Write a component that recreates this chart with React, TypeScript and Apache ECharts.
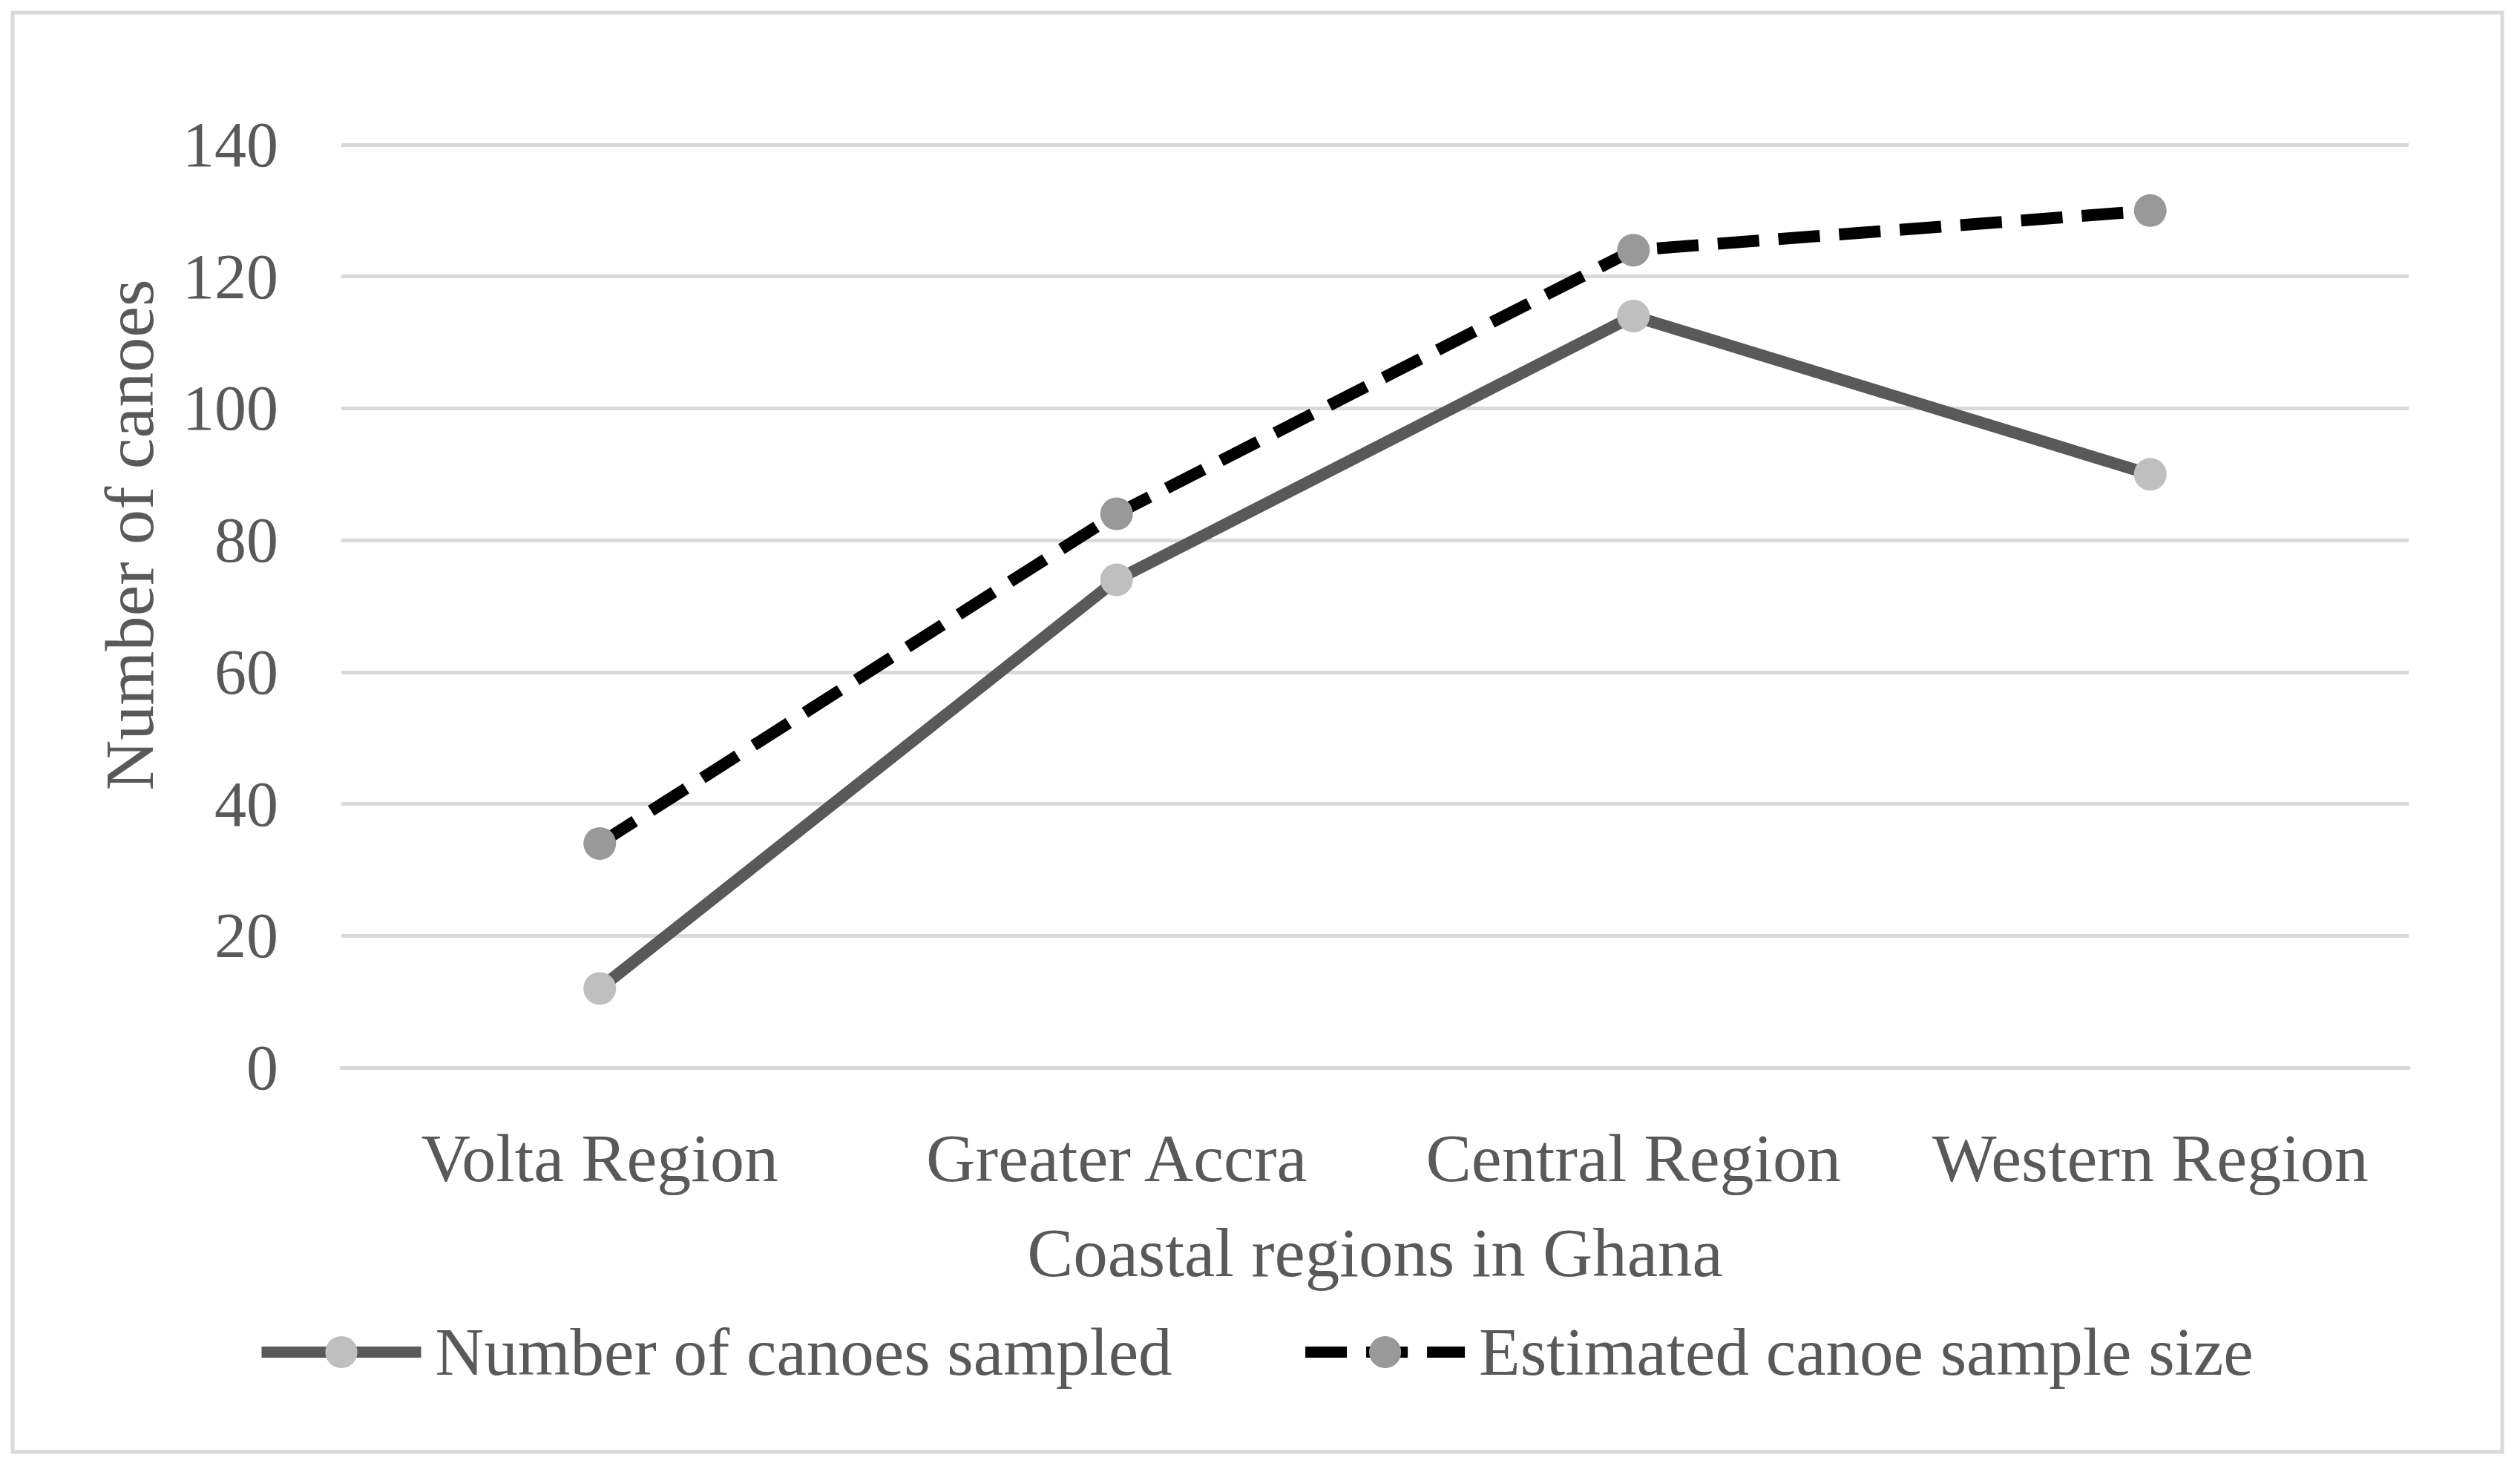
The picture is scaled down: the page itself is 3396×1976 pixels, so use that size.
import React, { useEffect, useRef } from "react";
import * as echarts from "echarts";

const categories = ["Volta Region", "Greater Accra", "Central Region", "Western Region"];
const sampled = [12, 74, 114, 90];
const estimated = [34, 84, 124, 130];
const yTicks = { min: 0, max: 140, interval: 20 };
const seriesNames = ["Number of canoes sampled", "Estimated canoe sample size"];
const xTitle = "Coastal regions in Ghana";
const yTitle = "Number of canoes";

const FONT = "'Liberation Serif', 'Times New Roman', serif";
const TEXT = "#595959";

export default function App() {
  const ref = useRef<HTMLDivElement>(null);
  useEffect(() => {
    if (!ref.current) return;
    const chart = echarts.init(ref.current, null, { renderer: "svg" });
    chart.setOption({
      animation: false,
      backgroundColor: "#ffffff",
      textStyle: { fontFamily: FONT, color: TEXT },
      graphic: [
        {
          type: "rect",
          shape: { x: 17, y: 17, width: 3355, height: 1940 },
          style: { fill: "none", stroke: "#D9D9D9", lineWidth: 5 },
          silent: true,
        },
        {
          type: "text",
          x: 174,
          y: 721,
          rotation: Math.PI / 2,
          style: {
            text: yTitle,
            fontFamily: FONT,
            fontSize: 94,
            fill: TEXT,
            align: "center",
            verticalAlign: "middle",
          },
          silent: true,
        },
      ],
      grid: { left: 460, right: 150, top: 195, bottom: 537, containLabel: false },
      legend: {
        left: 340,
        top: 1772,
        itemWidth: 215,
        itemHeight: 54,
        itemGap: 172,
        lineStyle: { width: 15 },
        textStyle: { fontFamily: FONT, fontSize: 91, color: TEXT, padding: [0, 0, 0, 14] },
        data: seriesNames,
      },
      xAxis: {
        type: "category",
        data: categories,
        boundaryGap: true,
        name: xTitle,
        nameLocation: "middle",
        nameGap: 203,
        nameTextStyle: { fontFamily: FONT, fontSize: 93, color: TEXT },
        axisLine: { show: true, lineStyle: { color: "#D9D9D9", width: 5 } },
        axisTick: { show: false },
        axisLabel: { interval: 0, fontFamily: FONT, fontSize: 92, color: TEXT, margin: 76 },
      },
      yAxis: {
        type: "value",
        min: yTicks.min,
        max: yTicks.max,
        interval: yTicks.interval,
        axisLine: { show: false },
        axisTick: { show: false },
        axisLabel: { fontFamily: FONT, fontSize: 86, color: TEXT, margin: 85 },
        splitLine: { show: true, lineStyle: { color: "#D9D9D9", width: 5 } },
      },
      series: [
        {
          name: seriesNames[0],
          type: "line",
          data: sampled,
          symbol: "circle",
          symbolSize: 44,
          lineStyle: { color: "#595959", width: 16 },
          itemStyle: { color: "#BFBFBF", borderWidth: 0 },
          z: 2,
        },
        {
          name: seriesNames[1],
          type: "line",
          data: estimated,
          symbol: "circle",
          symbolSize: 44,
          lineStyle: { color: "#000000", width: 16, type: [56, 26] },
          itemStyle: { color: "#999999", borderWidth: 0 },
          z: 3,
        },
      ],
    });
    return () => chart.dispose();
  }, []);
  return (
    <div
      ref={ref}
      style={{ position: "fixed", left: 0, top: 0, width: 3396, height: 1976, background: "#fff" }}
    />
  );
}
